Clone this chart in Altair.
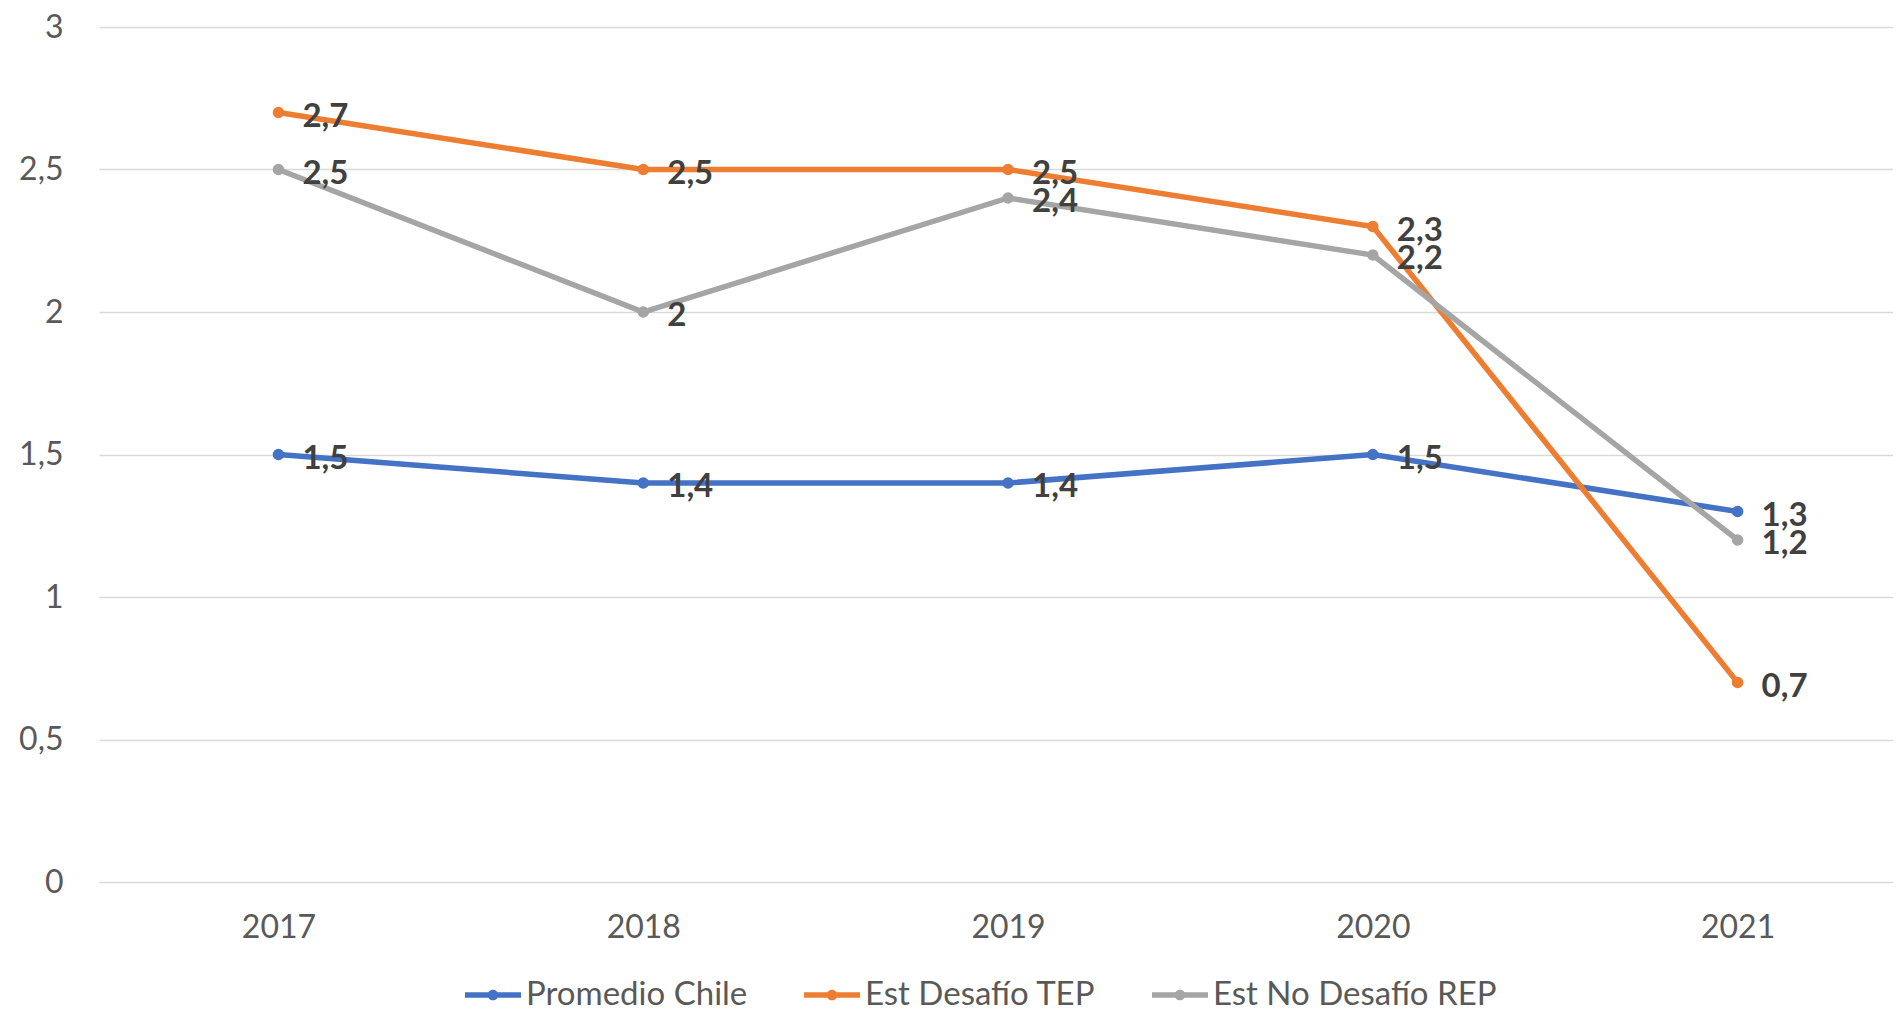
import altair as alt
import pandas as pd

years = [2017, 2018, 2019, 2020, 2021]
series_names = ["Promedio Chile", "Est Desafío TEP", "Est No Desafío REP"]
promedio_chile = [1.5, 1.4, 1.4, 1.5, 1.3]
est_desafio_tep = [2.7, 2.5, 2.5, 2.3, 0.7]
est_no_desafio_rep = [2.5, 2.0, 2.4, 2.2, 1.2]
colors = ["#4472C4", "#ED7D31", "#A5A5A5"]
y_ticks = [0, 0.5, 1, 1.5, 2, 2.5, 3]

rows = []
for name, vals in zip(series_names, [promedio_chile, est_desafio_tep, est_no_desafio_rep]):
    for yr, v in zip(years, vals):
        rows.append({"year": yr, "value": v, "series": name})
df = pd.DataFrame(rows)

FONT = "Lato"

x = alt.X(
    "year:Q",
    scale=alt.Scale(domain=[2016.508, 2021.426], nice=False, zero=False),
    axis=alt.Axis(values=years, format="d", grid=False, domain=False, ticks=False,
                  tickSize=0, labelPadding=30, labelFlush=False, title=None),
)
y = alt.Y(
    "value:Q",
    scale=alt.Scale(domain=[0, 3], nice=False),
    axis=alt.Axis(values=y_ticks, labelExpr="replace(toString(datum.value), '.', ',')",
                  gridColor="#D9D9D9", gridWidth=1.5, domain=False, ticks=False,
                  tickSize=0, labelPadding=36, title=None),
)

sym_path = ("M-1,-0.1H1V0.1H-1Z "
            "M-0.19,0A0.19,0.19 0 1,1 0.19,0A0.19,0.19 0 1,1 -0.19,0Z")

color = alt.Color(
    "series:N",
    scale=alt.Scale(domain=series_names, range=colors),
    sort=series_names,
    legend=alt.Legend(
        title=None, orient="none", direction="horizontal",
        legendX=366, legendY=940,
        symbolType=sym_path, symbolSize=3136, symbolStrokeWidth=0,
        labelFont=FONT, labelFontSize=33, labelColor="#595959",
        labelOffset=5, columnPadding=56, padding=0, labelLimit=0,
        symbolOpacity=1,
    ),
)

base = alt.Chart(df).encode(x=x, y=y)

lines = base.mark_line(strokeWidth=5.5).encode(color=color)
points = base.mark_point(filled=True, size=135, opacity=1).encode(color=color)
labels = base.transform_calculate(
    lbl="replace(toString(datum.value), '.', ',')"
).mark_text(
    align="left", baseline="middle", dx=24, dy=4,
    font=FONT, fontSize=33, fontWeight="bold", color="#404040",
).encode(text="lbl:N")

chart = alt.layer(lines, points, labels).properties(
    width=1794, height=855,
    padding={"left": 91, "top": 19, "right": 0, "bottom": 124},
    autosize=alt.AutoSizeParams(type="none"),
).configure_view(stroke=None).configure_axis(
    labelFont=FONT, labelFontSize=32, labelColor="#595959",
).configure_legend(
    symbolStrokeWidth=0,
)

chart.save("out.html", embed_options={"renderer": "svg", "actions": False})
